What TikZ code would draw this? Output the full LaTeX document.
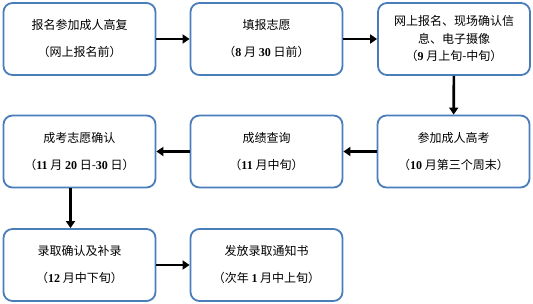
\documentclass[tikz,border=0pt]{standalone}
\usepackage{fontspec}
\setmainfont{Noto Sans CJK SC}
\newfontfamily\numfont{Liberation Serif}
\usetikzlibrary{arrows.meta}
\newcommand{\nb}[1]{{\numfont\bfseries #1}}
\definecolor{boxblue}{HTML}{4A7EBB}
\tikzset{
  stepbox/.style={draw=boxblue, line width=1.8pt, fill=white, rounded corners=9pt,
    minimum width=152pt, minimum height=72pt, align=center, inner sep=2pt,
    font=\fontsize{12}{27}\selectfont},
  tightbox/.style={stepbox, font=\fontsize{12}{17.5}\selectfont},
  arr/.style={line width=2.6pt, -{Triangle[length=7pt,width=9pt]}}
}
\begin{document}
\begin{tikzpicture}[x=1pt,y=-1pt]
\useasboundingbox (0,0) rectangle (533,304);
\node[stepbox] (b1) at (79.5,39) {报名参加成人高复\\（网上报名前）};
\node[stepbox] (b2) at (266.5,39) {填报志愿\\（\nb{8} 月 \nb{30} 日前）};
\node[tightbox] (b3) at (454,39) {网上报名、现场确认信\\息、电子摄像\\（\nb{9} 月上旬-中旬）};
\node[stepbox] (b6) at (453.5,151.5) {参加成人高考\\（\nb{10} 月第三个周末）};
\node[stepbox] (b5) at (266.5,151.5) {成绩查询\\（\nb{11} 月中旬）};
\node[stepbox] (b4) at (79.5,151.5) {成考志愿确认\\（\nb{11} 月 \nb{20} 日-\nb{30} 日）};
\node[stepbox] (b7) at (79.5,265) {录取确认及补录\\（\nb{12} 月中下旬）};
\node[stepbox] (b8) at (266.5,265) {发放录取通知书\\（次年 \nb{1} 月中上旬）};
\draw[arr] (b1) -- (b2);
\draw[arr] (b2) -- (b3);
\draw[arr] (b3) -- (b6);
\draw[arr] (b6) -- (b5);
\draw[arr] (b5) -- (b4);
\draw[arr] ([xshift=-9pt]b4.south) -- ([xshift=-9pt]b7.north);
\draw[arr] (b7) -- (b8);
\end{tikzpicture}
\end{document}
